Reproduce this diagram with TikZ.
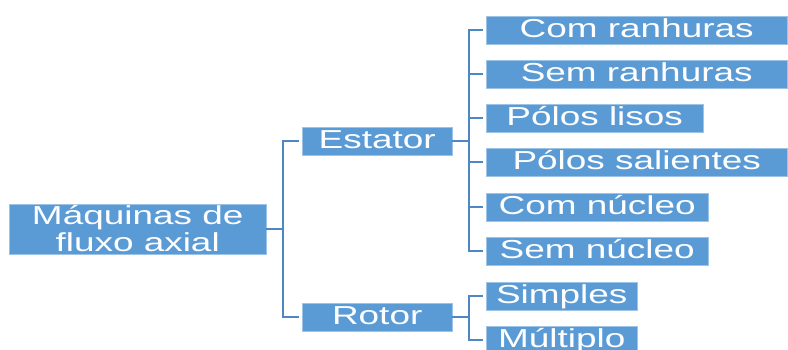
\documentclass[tikz,border=0pt]{standalone}
\usepackage{fontspec}
\usepackage{xcolor}
\newfontfamily\boxfont[FakeStretch=1.42]{Liberation Sans}
\definecolor{boxblue}{HTML}{5B9BD5}
\definecolor{linkblue}{HTML}{4F86C6}

\begin{document}
\begin{tikzpicture}[x=1pt, y=-1pt,
		part/.style={fill=boxblue, draw=boxblue!60!white, line width=0.4pt, text=white,
			inner sep=0pt, text height=21.5pt, text depth=7pt,
			font=\boxfont\fontsize{26}{27}\selectfont, anchor=west},
		link/.style={draw=linkblue, line width=2pt, shorten >=3pt}]
			\useasboundingbox (0,0) rectangle (788,349);

			% Root of the tree
			\node[part, align=center, text height=, text depth=, minimum width=257pt, minimum height=50pt]
				(machine) at (9,229) {M\'aquinas de\\fluxo axial};

			% First level
			\node[part, minimum width=150pt] (stator) at (302,141) {Estator};
			\node[part, minimum width=150pt] (rotor) at (302,317) {Rotor};

			% Stator variants
			\node[part, minimum width=301pt] (slotted) at (486,30) {Com ranhuras};
			\node[part, minimum width=301pt] (slotless) at (486,74) {Sem ranhuras};
			\node[part, minimum width=217pt] (smoothpoles) at (486,118) {P\'olos lisos};
			\node[part, minimum width=301pt] (salientpoles) at (486,162) {P\'olos salientes};
			\node[part, minimum width=222pt] (cored) at (486,207) {Com n\'ucleo};
			\node[part, minimum width=222pt] (coreless) at (486,251) {Sem n\'ucleo};

			% Rotor variants
			\node[part, minimum width=151pt] (single) at (486,296) {Simples};
			\node[part, minimum width=151pt] (multiple) at (486,340) {M\'ultiplo};

			% Connectors from the root
			\draw[link] (machine.east) -- ++(17,0) |- (stator.west);
			\draw[link] (machine.east) -- ++(17,0) |- (rotor.west);

			% Connectors from the stator
			\draw[link] (stator.east) -- ++(17,0) |- (slotted.west);
			\draw[link] (stator.east) -- ++(17,0) |- (slotless.west);
			\draw[link] (stator.east) -- ++(17,0) |- (smoothpoles.west);
			\draw[link] (stator.east) -- ++(17,0) |- (salientpoles.west);
			\draw[link] (stator.east) -- ++(17,0) |- (cored.west);
			\draw[link] (stator.east) -- ++(17,0) |- (coreless.west);

			% Connectors from the rotor
			\draw[link] (rotor.east) -- ++(17,0) |- (single.west);
			\draw[link] (rotor.east) -- ++(17,0) |- (multiple.west);
		\end{tikzpicture}
\end{document}
